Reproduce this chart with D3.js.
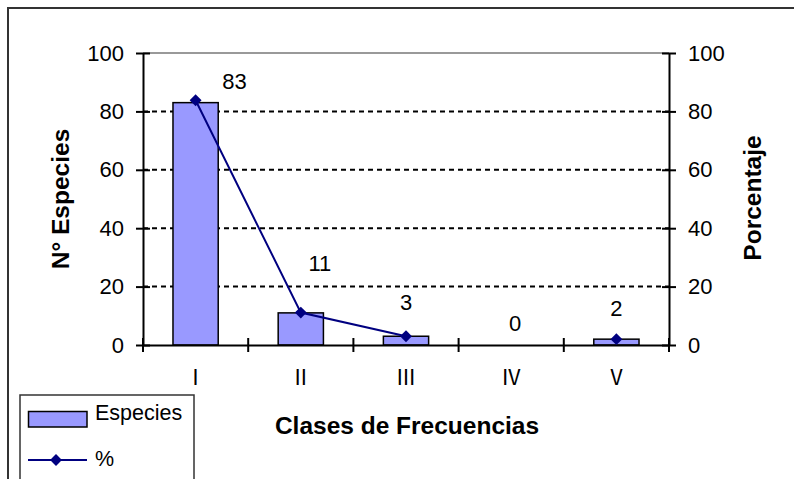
<!DOCTYPE html>
<html>
<head>
<meta charset="utf-8">
<script src="https://cdn.jsdelivr.net/npm/d3@7"></script>
<style>
  html, body { margin: 0; padding: 0; background: #fff; }
  svg { display: block; font-family: "Liberation Sans", Arial, sans-serif; }
</style>
</head>
<body>
<svg id="chart" width="794" height="479"></svg>
<script>
// ---- data ----
const categories = ["Ⅰ", "Ⅱ", "Ⅲ", "Ⅳ", "Ⅴ"];
const species = [83, 11, 3, 0, 2];
const percent = [83.8, 11.1, 3.0, null, 2.0];
const yTicks = [0, 20, 40, 60, 80, 100];

// ---- layout ----
const W = 794, H = 479;
const plot = { left: 143, right: 669, top: 53, bottom: 345 };
const labelDx = [39, 19, 0, 4, 0];
const labelDy = [14, 42, 26, 14, 23];

const svg = d3.select("#chart");

// outer frame (cropped on right/bottom)
svg.append("rect").attr("x", 8).attr("y", 8).attr("width", W + 20).attr("height", H + 20)
  .attr("fill", "#fff").attr("stroke", "#333").attr("stroke-width", 2);

const x = d3.scaleBand().domain(categories).range([plot.left, plot.right]).paddingInner(0.57).paddingOuter(0.285);
const xb = d3.scaleBand().domain(categories).range([plot.left, plot.right]);
const y = d3.scaleLinear().domain([0, 100]).range([plot.bottom, plot.top]);
const y2 = d3.scaleLinear().domain([0, 100]).range([plot.bottom, plot.top]);

// gridlines
svg.append("g").selectAll("line").data(yTicks.filter(t => t > 0 && t < 100)).join("line")
  .attr("x1", plot.left).attr("x2", plot.right)
  .attr("y1", d => y(d)).attr("y2", d => y(d))
  .attr("stroke", "#000").attr("stroke-width", 2).attr("stroke-dasharray", "5,4");
svg.append("line").attr("x1", plot.left).attr("x2", plot.right)
  .attr("y1", y(100)).attr("y2", y(100)).attr("stroke", "#999").attr("stroke-width", 2);

// bars
svg.append("g").selectAll("rect").data(species).join("rect")
  .attr("x", (d, i) => x(categories[i]))
  .attr("width", x.bandwidth())
  .attr("y", d => y(d))
  .attr("height", d => plot.bottom - y(d))
  .attr("fill", "#9999FF").attr("stroke", "#000").attr("stroke-width", 1.5);

// axes
const axisStyle = g => {
  g.select(".domain").attr("stroke", "#000").attr("stroke-width", 2);
  g.selectAll(".tick line").attr("stroke", "#000").attr("stroke-width", 2);
  g.selectAll(".tick text").attr("font-size", 22).attr("fill", "#000")
    .attr("font-family", "'Liberation Sans', Arial, sans-serif");
};
const gl = svg.append("g").attr("transform", `translate(${plot.left},0)`)
  .call(d3.axisLeft(y).tickValues(yTicks).tickSize(7).tickSizeOuter(0).tickPadding(12)).call(axisStyle);
gl.selectAll(".tick line").attr("x2", 7).attr("x1", -7);
const gr = svg.append("g").attr("transform", `translate(${plot.right},0)`)
  .call(d3.axisRight(y2).tickValues(yTicks).tickSize(7).tickSizeOuter(0).tickPadding(12)).call(axisStyle);
gr.selectAll(".tick line").attr("x1", -7).attr("x2", 7);

const gb = svg.append("g").attr("transform", `translate(0,${plot.bottom})`)
  .call(d3.axisBottom(xb).tickSize(0).tickSizeOuter(0).tickPadding(25)).call(axisStyle);
gb.selectAll(".tick text").attr("dy", "0.71em").attr("font-size", 21)
  .attr("font-family", "'Noto Sans CJK JP', 'DejaVu Sans', sans-serif");
// category boundary ticks
const bounds = categories.map(c => xb(c)).concat([plot.right]);
gb.append("g").selectAll("line").data(bounds).join("line")
  .attr("x1", d => d).attr("x2", d => d).attr("y1", -7).attr("y2", 7)
  .attr("stroke", "#000").attr("stroke-width", 2);

// percent line
const line = d3.line()
  .defined(d => d !== null)
  .x((d, i) => xb(categories[i]) + xb.bandwidth() / 2)
  .y(d => y2(d));
svg.append("path").datum(percent).attr("d", line)
  .attr("fill", "none").attr("stroke", "#000080").attr("stroke-width", 2);
const diamond = d3.symbol().type(d3.symbolDiamond2).size(90);
svg.append("g").selectAll("path").data(percent.map((v, i) => ({ v, i })).filter(d => d.v !== null)).join("path")
  .attr("d", diamond)
  .attr("transform", d => `translate(${xb(categories[d.i]) + xb.bandwidth() / 2},${y2(d.v)})`)
  .attr("fill", "#000080");

// data labels
svg.append("g").selectAll("text").data(species).join("text")
  .attr("x", (d, i) => xb(categories[i]) + xb.bandwidth() / 2 + labelDx[i])
  .attr("y", (d, i) => y(d) - labelDy[i])
  .attr("text-anchor", "middle").attr("font-size", 22).attr("fill", "#000")
  .text(d => d);

// axis titles
svg.append("text").attr("transform", `translate(69,199) rotate(-90)`)
  .attr("text-anchor", "middle").attr("font-size", 24.5).attr("font-weight", "bold").text("N° Especies");
svg.append("text").attr("transform", `translate(761,198) rotate(-90)`)
  .attr("text-anchor", "middle").attr("font-size", 24.5).attr("font-weight", "bold").text("Porcentaje");
svg.append("text").attr("x", 407).attr("y", 434)
  .attr("text-anchor", "middle").attr("font-size", 24.5).attr("font-weight", "bold").text("Clases de Frecuencias");

// legend
const lg = svg.append("g");
lg.append("rect").attr("x", 20).attr("y", 395).attr("width", 174).attr("height", 100)
  .attr("fill", "#fff").attr("stroke", "#333").attr("stroke-width", 1.5);
lg.append("rect").attr("x", 28.5).attr("y", 411.5).attr("width", 58.5).attr("height", 15.5)
  .attr("fill", "#9999FF").attr("stroke", "#000").attr("stroke-width", 1.5);
lg.append("text").attr("x", 95).attr("y", 419.5).attr("font-size", 21.5).text("Especies");
lg.append("line").attr("x1", 28).attr("x2", 87).attr("y1", 460).attr("y2", 460)
  .attr("stroke", "#000080").attr("stroke-width", 2);
lg.append("path").attr("d", diamond).attr("transform", "translate(56,460)").attr("fill", "#000080");
lg.append("text").attr("x", 95).attr("y", 466).attr("font-size", 21.5).text("%");
</script>
</body>
</html>
